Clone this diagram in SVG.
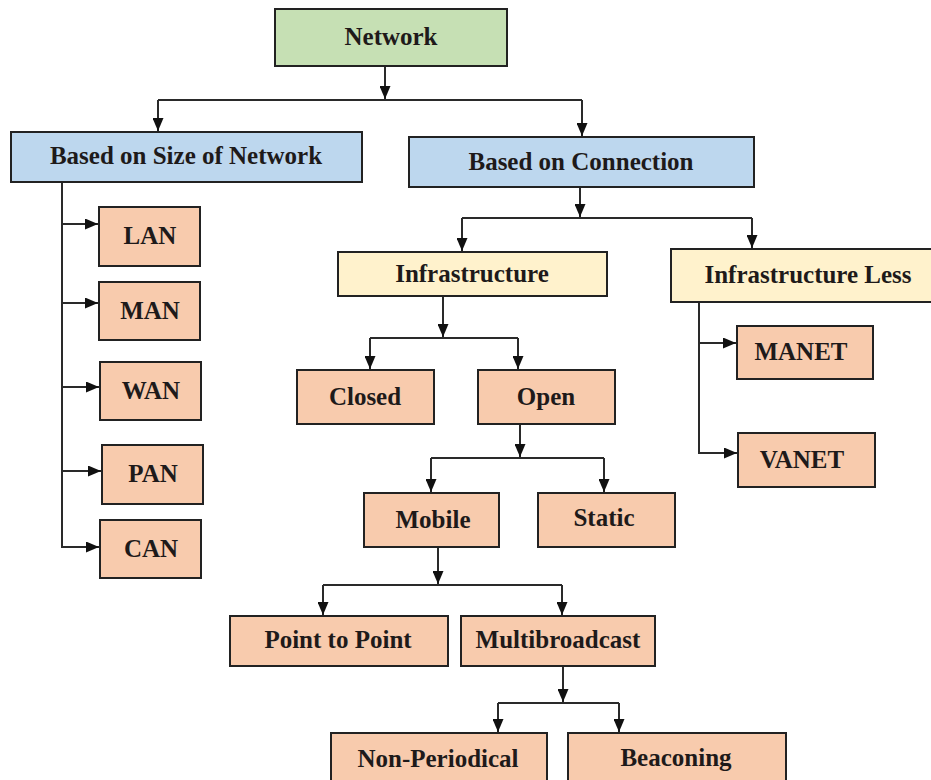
<svg xmlns="http://www.w3.org/2000/svg" width="931" height="780" viewBox="0 0 931 780">
  <defs>
    <marker id="arrow" viewBox="0 0 13 11" refX="13" refY="5.5" markerWidth="13" markerHeight="11" markerUnits="userSpaceOnUse" orient="auto">
      <path d="M0,0 L13,5.5 L0,11 Z" fill="#111"/>
    </marker>
    <style>
      .box rect { stroke: #222; stroke-width: 2; }
      .green rect { fill: #c6e0b4; }
      .blue rect { fill: #bdd7ee; }
      .yellow rect { fill: #fff2cc; }
      .salmon rect { fill: #f8cbad; }
      .box text { font-family: "Liberation Serif", "Times New Roman", serif; font-weight: bold; font-size: 25px; fill: #1e1a1a; text-anchor: middle; }
      #connectors line { stroke: #2a2a2a; stroke-width: 2; fill: none; }
      .arr { marker-end: url(#arrow); }
    </style>
  </defs>
  <rect width="931" height="780" fill="#ffffff"/>

  <g id="connectors">
    <!-- Network to the two main categories -->
    <line class="arr" x1="385" y1="66" x2="385" y2="99"/>
    <line x1="158" y1="100" x2="582" y2="100"/>
    <line class="arr" x1="158" y1="100" x2="158" y2="131"/>
    <line class="arr" x1="582" y1="100" x2="582" y2="136"/>
    <!-- Size of network branch -->
    <line x1="62" y1="182" x2="62" y2="548"/>
    <line class="arr" x1="61" y1="224" x2="98" y2="224"/>
    <line class="arr" x1="61" y1="303" x2="98" y2="303"/>
    <line class="arr" x1="61" y1="387" x2="99" y2="387"/>
    <line class="arr" x1="61" y1="471" x2="101" y2="471"/>
    <line class="arr" x1="61" y1="547" x2="99" y2="547"/>
    <!-- Connection branch -->
    <line class="arr" x1="580" y1="187" x2="580" y2="217"/>
    <line x1="462" y1="218" x2="752" y2="218"/>
    <line class="arr" x1="462" y1="218" x2="462" y2="251"/>
    <line class="arr" x1="752" y1="218" x2="752" y2="248"/>
    <!-- Infrastructure -->
    <line class="arr" x1="443" y1="296" x2="443" y2="337"/>
    <line x1="370" y1="338" x2="518" y2="338"/>
    <line class="arr" x1="370" y1="338" x2="370" y2="369"/>
    <line class="arr" x1="518" y1="338" x2="518" y2="369"/>
    <!-- Infrastructure Less -->
    <line x1="699" y1="302" x2="699" y2="454"/>
    <line class="arr" x1="698" y1="343" x2="736" y2="343"/>
    <line class="arr" x1="698" y1="453" x2="737" y2="453"/>
    <!-- Open -->
    <line class="arr" x1="520" y1="424" x2="520" y2="457"/>
    <line x1="431" y1="458" x2="604" y2="458"/>
    <line class="arr" x1="431" y1="458" x2="431" y2="492"/>
    <line class="arr" x1="604" y1="458" x2="604" y2="492"/>
    <!-- Mobile -->
    <line class="arr" x1="438" y1="547" x2="438" y2="584"/>
    <line x1="323" y1="585" x2="562" y2="585"/>
    <line class="arr" x1="323" y1="585" x2="323" y2="615"/>
    <line class="arr" x1="562" y1="585" x2="562" y2="615"/>
    <!-- Multibroadcast -->
    <line class="arr" x1="563" y1="666" x2="563" y2="702"/>
    <line x1="498" y1="703" x2="619" y2="703"/>
    <line class="arr" x1="498" y1="703" x2="498" y2="732"/>
    <line class="arr" x1="619" y1="703" x2="619" y2="732"/>
  </g>

  <g id="network" class="box green"><rect x="275" y="9" width="232" height="57"/><text x="391" y="45">Network</text></g>
  <g id="size" class="box blue"><rect x="11" y="132" width="351" height="50"/><text x="186" y="164">Based on Size of Network</text></g>
  <g id="connection" class="box blue"><rect x="409" y="137" width="345" height="50"/><text x="581" y="170">Based on Connection</text></g>
  <g id="infrastructure" class="box yellow"><rect x="338" y="252" width="269" height="44"/><text x="472" y="282">Infrastructure</text></g>
  <g id="infrastructure-less" class="box yellow"><rect x="671" y="249" width="264" height="53"/><text x="808" y="283">Infrastructure Less</text></g>

  <g id="lan" class="box salmon"><rect x="99" y="207" width="101" height="59"/><text x="150" y="244">LAN</text></g>
  <g id="man" class="box salmon"><rect x="99" y="282" width="101" height="58"/><text x="150" y="319">MAN</text></g>
  <g id="wan" class="box salmon"><rect x="100" y="362" width="101" height="58"/><text x="151" y="399">WAN</text></g>
  <g id="pan" class="box salmon"><rect x="102" y="445" width="101" height="59"/><text x="153" y="482">PAN</text></g>
  <g id="can" class="box salmon"><rect x="100" y="520" width="101" height="58"/><text x="151" y="557">CAN</text></g>

  <g id="closed" class="box salmon"><rect x="297" y="370" width="137" height="54"/><text x="365" y="405">Closed</text></g>
  <g id="open" class="box salmon"><rect x="478" y="370" width="137" height="54"/><text x="546" y="405">Open</text></g>
  <g id="manet" class="box salmon"><rect x="737" y="326" width="136" height="53"/><text x="801" y="360">MANET</text></g>
  <g id="vanet" class="box salmon"><rect x="738" y="433" width="137" height="54"/><text x="802" y="468">VANET</text></g>
  <g id="mobile" class="box salmon"><rect x="364" y="493" width="135" height="54"/><text x="433" y="528">Mobile</text></g>
  <g id="static" class="box salmon"><rect x="538" y="493" width="137" height="54"/><text x="604" y="526">Static</text></g>
  <g id="point-to-point" class="box salmon"><rect x="230" y="616" width="218" height="50"/><text x="338" y="648">Point to Point</text></g>
  <g id="multibroadcast" class="box salmon"><rect x="461" y="616" width="194" height="50"/><text x="558" y="648">Multibroadcast</text></g>
  <g id="non-periodical" class="box salmon"><rect x="331" y="733" width="216" height="60"/><text x="438" y="767">Non-Periodical</text></g>
  <g id="beaconing" class="box salmon"><rect x="568" y="733" width="218" height="60"/><text x="676" y="766">Beaconing</text></g>
</svg>
